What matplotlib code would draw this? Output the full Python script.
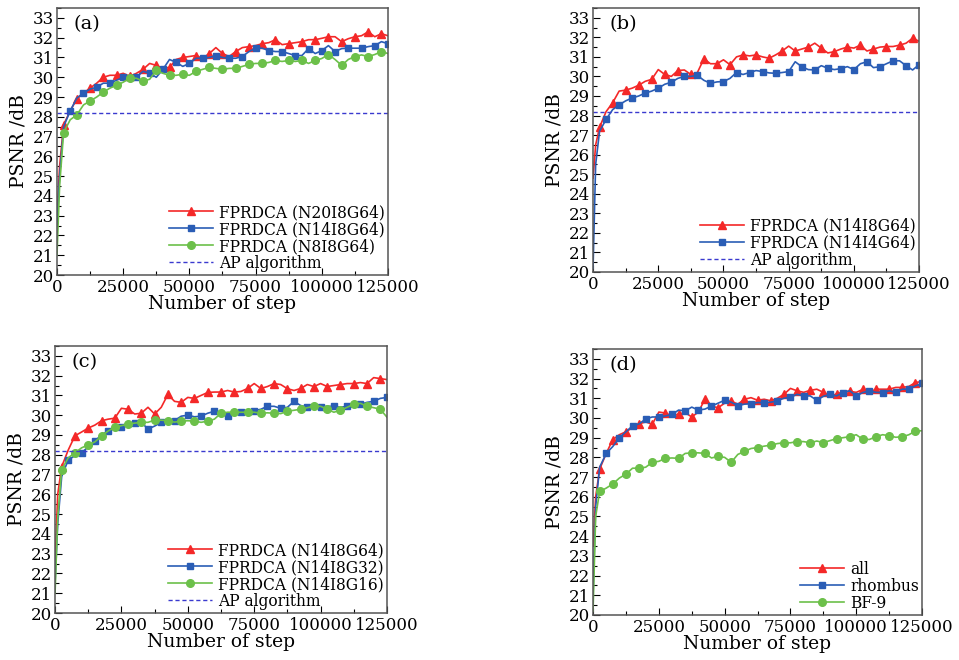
import matplotlib
matplotlib.use('Agg')
import matplotlib.pyplot as plt
import matplotlib.ticker as mticker

plt.rcParams['font.family'] = ['DejaVu Serif']

# training steps shared by every curve
STEPS = [0, 1000] + list(range(2500, 125001, 2500))
AP_PSNR = 28.2

# (a) effect of block count
A_N20I8G64 = [23.0, 25.5,
              27.6, 28.3, 28.9, 29.2, 29.45, 29.7, 30.0, 30.1, 30.1, 30.2,
              30.05, 30.2, 30.4, 30.7, 30.6, 30.45, 30.5, 30.9, 31.0, 31.05,
              31.1, 30.95, 31.2, 31.5, 31.2, 31.05, 31.3, 31.5, 31.55, 31.6,
              31.7, 31.75, 31.9, 31.65, 31.7, 31.75, 31.8, 31.9, 31.9, 31.97,
              32.05, 32.05, 31.8, 31.95, 32.05, 32.1, 32.3, 32.05, 32.2, 32.1]
A_N14I8G64 = [22.5, 25.0,
              27.5, 28.3, 28.95, 29.2, 29.4, 29.5, 29.7, 29.7, 29.85, 30.0,
              30.1, 30.0, 30.3, 30.2, 30.0, 30.4, 30.9, 30.75, 30.55, 30.7,
              30.96, 30.96, 31.0, 31.1, 31.0, 30.96, 30.96, 31.05, 31.3, 31.47,
              31.47, 31.35, 31.3, 31.3, 31.2, 31.1, 31.1, 31.45, 31.2, 31.35,
              31.6, 31.3, 31.45, 31.47, 31.47, 31.47, 31.55, 31.6, 31.8, 31.7]
A_N8I8G64 = [21.0, 24.5,
             27.2, 27.85, 28.1, 28.6, 28.8, 29.0, 29.25, 29.45, 29.6, 29.75,
             29.95, 29.95, 29.8, 29.9, 30.35, 30.2, 30.1, 30.1, 30.15, 30.1,
             30.3, 30.4, 30.5, 30.45, 30.4, 30.45, 30.45, 30.55, 30.65, 30.7,
             30.7, 30.75, 30.85, 30.8, 30.85, 30.8, 30.85, 30.7, 30.85, 30.95,
             31.15, 30.9, 30.6, 30.9, 31.05, 31.13, 31.05, 31.15, 31.3, 31.2]

# (b) effect of layers per block
B_N14I8G64 = [24.8, 26.5,
              27.4, 28.2, 28.65, 29.25, 29.3, 29.4, 29.55, 29.75, 29.85, 30.35,
              30.1, 30.0, 30.3, 30.33, 30.1, 30.2, 30.9, 30.65, 30.65, 30.85,
              30.6, 31.0, 31.1, 31.05, 31.1, 31.0, 30.93, 31.1, 31.3, 31.55,
              31.3, 31.4, 31.5, 31.7, 31.45, 31.2, 31.27, 31.4, 31.5, 31.45,
              31.6, 31.3, 31.4, 31.5, 31.53, 31.53, 31.6, 31.7, 31.95, 31.8]
B_N14I4G64 = [20.2, 25.5,
              27.2, 27.8, 28.3, 28.55, 28.75, 28.9, 29.0, 29.15, 29.25, 29.4,
              29.6, 29.7, 29.9, 30.0, 30.0, 30.05, 29.8, 29.65, 29.72, 29.74,
              29.9, 30.2, 30.1, 30.2, 30.3, 30.25, 30.18, 30.16, 30.2, 30.25,
              30.75, 30.5, 30.35, 30.33, 30.55, 30.42, 30.35, 30.4, 30.5, 30.35,
              30.65, 30.75, 30.45, 30.5, 30.65, 30.8, 30.8, 30.55, 30.33, 30.6]

# (c) effect of growth rate
C_N14I8G64 = [22.5, 26.0,
              27.4, 28.25, 28.96, 29.15, 29.35, 29.5, 29.72, 29.8, 29.85, 30.35,
              30.3, 30.06, 30.1, 30.4, 30.06, 30.4, 31.05, 30.7, 30.65, 30.9,
              30.85, 31.0, 31.15, 31.17, 31.17, 31.25, 31.17, 31.2, 31.35, 31.6,
              31.35, 31.45, 31.6, 31.55, 31.34, 31.25, 31.35, 31.55, 31.45, 31.6,
              31.45, 31.5, 31.55, 31.6, 31.6, 31.65, 31.6, 31.9, 31.85, 31.8]
C_N14I8G32 = [21.5, 24.5,
              26.9, 27.75, 27.95, 28.1, 28.4, 28.7, 29.0, 29.2, 29.35, 29.4,
              29.5, 29.6, 29.64, 29.3, 29.45, 29.64, 29.78, 29.72, 29.95, 30.0,
              29.92, 29.95, 30.1, 30.2, 30.1, 29.98, 30.05, 30.15, 30.2, 30.23,
              30.3, 30.45, 30.45, 30.35, 30.4, 30.7, 30.49, 30.4, 30.4, 30.4,
              30.45, 30.45, 30.4, 30.45, 30.4, 30.55, 30.65, 30.7, 30.85, 30.9]
C_N14I8G16 = [21.0, 24.8,
              27.25, 27.85, 28.1, 28.35, 28.5, 28.65, 28.95, 29.2, 29.4, 29.47,
              29.55, 29.6, 29.64, 29.64, 29.75, 29.75, 29.72, 29.65, 29.7, 29.72,
              29.7, 29.64, 29.7, 29.8, 30.1, 30.15, 30.15, 30.15, 30.15, 30.15,
              30.1, 30.12, 30.1, 30.08, 30.2, 30.25, 30.3, 30.38, 30.45, 30.45,
              30.3, 30.15, 30.25, 30.4, 30.55, 30.6, 30.45, 30.38, 30.3, 29.9]

# (d) effect of input pattern
D_ALL = [23.5, 26.0,
         27.4, 28.2, 28.9, 29.15, 29.3, 29.5, 29.7, 29.8, 29.68, 30.3,
         30.25, 30.1, 30.2, 30.27, 30.05, 30.3, 30.95, 30.6, 30.52, 30.75,
         30.85, 30.7, 30.95, 31.03, 30.9, 30.95, 30.87, 31.0, 31.2, 31.5,
         31.38, 31.3, 31.4, 31.46, 31.3, 31.15, 31.2, 31.35, 31.35, 31.3,
         31.45, 31.3, 31.46, 31.46, 31.46, 31.55, 31.55, 31.6, 31.8, 31.85]
D_RHOMBUS = [21.0, 25.5,
             27.5, 28.2, 28.55, 29.0, 29.3, 29.6, 29.7, 29.95, 30.05, 30.05,
             30.1, 30.18, 30.4, 30.36, 30.55, 30.4, 30.45, 30.6, 30.75, 30.9,
             30.8, 30.62, 30.7, 30.72, 30.78, 30.78, 30.8, 30.87, 31.0, 31.05,
             31.2, 31.12, 31.12, 30.9, 31.1, 31.2, 31.12, 31.29, 31.38, 31.12,
             31.29, 31.38, 31.3, 31.29, 31.38, 31.3, 31.46, 31.46, 31.63, 31.75]
D_BF9 = [20.2, 25.0,
         26.27, 26.44, 26.65, 26.95, 27.15, 27.45, 27.45, 27.5, 27.75, 27.8,
         27.95, 27.97, 27.95, 28.2, 28.23, 28.23, 28.2, 27.97, 28.05, 28.0,
         27.75, 28.15, 28.3, 28.45, 28.5, 28.57, 28.62, 28.7, 28.74, 28.74,
         28.8, 28.8, 28.74, 28.83, 28.75, 28.85, 28.95, 29.0, 29.05, 29.15,
         28.91, 28.91, 29.05, 29.15, 29.1, 29.02, 29.05, 29.15, 29.34, 29.35]

RED = '#F42828'
BLUE = '#2A5DB5'
GREEN = '#6CC04A'
AP_COLOR = '#3A3ACF'
SPINE = '#555555'

STYLE = {
    'red': dict(color=RED, marker='^', ms=6),
    'blue': dict(color=BLUE, marker='s', ms=5),
    'green': dict(color=GREEN, marker='o', ms=5.5),
}

# axes rects in figure fractions (left, bottom, width, height)
RECTS = {
    'a': [0.0594, 0.5833, 0.3452, 0.4045],
    'b': [0.6184, 0.5879, 0.3400, 0.4000],
    'c': [0.0574, 0.0712, 0.3461, 0.4046],
    'd': [0.6184, 0.0682, 0.3431, 0.4030],
}


def draw_panel(fig, key, series, show_ap=True):
    ax = fig.add_axes(RECTS[key])
    for i, (label, values, style) in enumerate(series):
        s = STYLE[style]
        ax.plot(STEPS, values, color=s['color'], lw=1.2, marker=s['marker'],
                ms=s['ms'], markevery=(2 + i % 2, 2), label=label)
    if show_ap:
        ax.axhline(AP_PSNR, color=AP_COLOR, lw=1.0, linestyle=(0, (3, 2)),
                   label='AP algorithm')

    ax.set_xlim(0, 125000)
    ax.set_ylim(20, 33.5)
    ax.xaxis.set_major_locator(mticker.MultipleLocator(25000))
    ax.xaxis.set_minor_locator(mticker.MultipleLocator(12500))
    ax.yaxis.set_major_locator(mticker.MultipleLocator(1))
    ax.yaxis.set_minor_locator(mticker.MultipleLocator(0.5))
    ax.tick_params(which='both', direction='in', labelsize=12, colors='black')
    ax.tick_params(which='major', length=5, width=0.8)
    ax.tick_params(which='minor', length=3, width=0.8)
    ax.tick_params(axis='x', pad=3)
    ax.tick_params(axis='y', pad=2)
    for sp in ax.spines.values():
        sp.set_color(SPINE)
        sp.set_linewidth(1.1)

    ax.set_xlabel('Number of step', fontsize=13.5, labelpad=-1)
    ax.set_ylabel('PSNR /dB', fontsize=13.5, labelpad=4)
    ax.text(0.05, 0.975, f'({key})', transform=ax.transAxes, fontsize=14,
            ha='left', va='top')
    ax.legend(loc='lower right', frameon=False, fontsize=11.2, handlelength=2.8,
              handletextpad=0.4, labelspacing=0.0, borderaxespad=0.0,
              borderpad=0.2)
    return ax


fig = plt.figure(figsize=(9.59, 6.6), dpi=100)

draw_panel(fig, 'a', [
    ('FPRDCA (N20I8G64)', A_N20I8G64, 'red'),
    ('FPRDCA (N14I8G64)', A_N14I8G64, 'blue'),
    ('FPRDCA (N8I8G64)', A_N8I8G64, 'green'),
])
draw_panel(fig, 'b', [
    ('FPRDCA (N14I8G64)', B_N14I8G64, 'red'),
    ('FPRDCA (N14I4G64)', B_N14I4G64, 'blue'),
])
draw_panel(fig, 'c', [
    ('FPRDCA (N14I8G64)', C_N14I8G64, 'red'),
    ('FPRDCA (N14I8G32)', C_N14I8G32, 'blue'),
    ('FPRDCA (N14I8G16)', C_N14I8G16, 'green'),
])
draw_panel(fig, 'd', [
    ('all', D_ALL, 'red'),
    ('rhombus', D_RHOMBUS, 'blue'),
    ('BF-9', D_BF9, 'green'),
], show_ap=False)

fig.savefig('out.png', dpi=100)
